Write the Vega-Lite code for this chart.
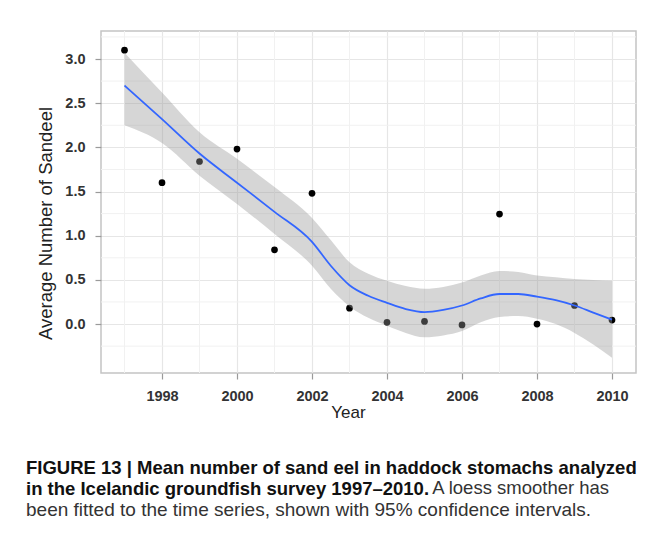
{
  "$schema": "https://vega.github.io/schema/vega-lite/v6.json",
  "padding": {"left": 25, "top": 29, "right": 0, "bottom": 0},
  "background": "white",
  "config": {
    "view": {"stroke": "#c4c4c4", "strokeWidth": 1.5},
    "font": "Liberation Sans"
  },
  "title": {
    "text": "A loess smoother has",
    "orient": "bottom",
    "anchor": "start",
    "frame": "bounds",
    "font": "Liberation Sans",
    "fontSize": 18.5,
    "fontWeight": "normal",
    "color": "#333333",
    "offset": 0,
    "dx": 407,
    "dy": -41
  },
  "vconcat": [
    {
      "width": 535,
      "height": 342,
      "title": {
        "text": [
          "FIGURE 13 | Mean number of sand eel in haddock stomachs analyzed",
          "in the Icelandic groundfish survey 1997–2010."
        ],
        "subtitle": "been fitted to the time series, shown with 95% confidence intervals.",
        "orient": "bottom",
        "anchor": "start",
        "frame": "group",
        "dx": -75,
        "offset": 39,
        "font": "Liberation Sans",
        "fontSize": 18.5,
        "fontWeight": "bold",
        "color": "#111111",
        "lineHeight": 21,
        "subtitleFont": "Liberation Sans",
        "subtitleFontSize": 19,
        "subtitleFontWeight": "normal",
        "subtitleColor": "#333333",
        "subtitleLineHeight": 21,
        "subtitlePadding": 2
      },
      "layer": [
        {
          "data": {"values": [
            {"year": 1997}, {"year": 1999}, {"year": 2001}, {"year": 2003},
            {"year": 2005}, {"year": 2007}, {"year": 2009}
          ]},
          "mark": {"type": "rule", "color": "#f1f1f1", "strokeWidth": 1},
          "encoding": {
            "x": {"field": "year", "type": "quantitative", "scale": {"domain": [1996.373, 2010.64], "nice": false, "zero": false}}
          }
        },
        {
          "data": {"values": [
            {"value": -0.25}, {"value": 0.25}, {"value": 0.75}, {"value": 1.25},
            {"value": 1.75}, {"value": 2.25}, {"value": 2.75}, {"value": 3.25}
          ]},
          "mark": {"type": "rule", "color": "#f1f1f1", "strokeWidth": 1},
          "encoding": {
            "y": {"field": "value", "type": "quantitative", "scale": {"domain": [-0.554, 3.317], "nice": false, "zero": false}}
          }
        },
        {
          "data": {"values": [
            {"year": 1997, "value": 3.10},
            {"year": 1998, "value": 1.60},
            {"year": 1999, "value": 1.84},
            {"year": 2000, "value": 1.98},
            {"year": 2001, "value": 0.84},
            {"year": 2002, "value": 1.48},
            {"year": 2003, "value": 0.18},
            {"year": 2004, "value": 0.02},
            {"year": 2005, "value": 0.03},
            {"year": 2006, "value": -0.01},
            {"year": 2007, "value": 1.245},
            {"year": 2008, "value": 0.0},
            {"year": 2009, "value": 0.21},
            {"year": 2010, "value": 0.045}
          ]},
          "mark": {"type": "circle", "color": "#000000", "size": 45, "opacity": 1},
          "encoding": {
            "x": {
              "field": "year",
              "type": "quantitative",
              "scale": {"domain": [1996.373, 2010.64], "nice": false, "zero": false},
              "axis": {
                "values": [1998, 2000, 2002, 2004, 2006, 2008, 2010],
                "format": "d",
                "grid": true,
                "gridColor": "#e6e6e6",
                "gridWidth": 1.2,
                "domain": false,
                "tickColor": "#9a9a9a",
                "tickSize": 6,
                "tickWidth": 1.2,
                "labelFont": "Liberation Sans",
                "labelFontSize": 14.5,
                "labelFontWeight": "bold",
                "labelColor": "#333333",
                "labelPadding": 10,
                "title": "Year",
                "titleFont": "Liberation Sans",
                "titleFontSize": 17,
                "titleFontWeight": "normal",
                "titleColor": "#222222",
                "titleX": 247,
                "titleY": 39,
                "titleBaseline": "middle",
                "titleAlign": "center"
              }
            },
            "y": {
              "field": "value",
              "type": "quantitative",
              "scale": {"domain": [-0.554, 3.317], "nice": false, "zero": false},
              "axis": {
                "values": [0, 0.5, 1, 1.5, 2, 2.5, 3],
                "format": ".1f",
                "grid": true,
                "gridColor": "#e6e6e6",
                "gridWidth": 1.2,
                "domain": false,
                "tickColor": "#9a9a9a",
                "tickSize": 6,
                "tickWidth": 1.2,
                "labelFont": "Liberation Sans",
                "labelFontSize": 14.5,
                "labelFontWeight": "bold",
                "labelColor": "#333333",
                "labelPadding": 10,
                "title": "Average Number of Sandeel",
                "titleFont": "Liberation Sans",
                "titleFontSize": 18.5,
                "titleFontWeight": "normal",
                "titleColor": "#222222",
                "titleAngle": -90,
                "titleX": -56,
                "titleY": 192,
                "titleBaseline": "middle",
                "titleAlign": "center"
              }
            }
          }
        },
        {
          "data": {"name": "smooth", "values": [
            {"year": 1997, "fit": 2.70, "lo": 2.25, "hi": 3.07},
            {"year": 1998, "fit": 2.32, "lo": 2.05, "hi": 2.62},
            {"year": 1999, "fit": 1.93, "lo": 1.68, "hi": 2.17},
            {"year": 2000, "fit": 1.60, "lo": 1.36, "hi": 1.87},
            {"year": 2001, "fit": 1.27, "lo": 1.02, "hi": 1.55},
            {"year": 2002, "fit": 0.93, "lo": 0.66, "hi": 1.20},
            {"year": 2002.5, "fit": 0.66, "lo": 0.40, "hi": 0.95},
            {"year": 2003, "fit": 0.44, "lo": 0.20, "hi": 0.70},
            {"year": 2003.5, "fit": 0.32, "lo": 0.07, "hi": 0.57},
            {"year": 2004, "fit": 0.24, "lo": -0.02, "hi": 0.49},
            {"year": 2004.5, "fit": 0.17, "lo": -0.10, "hi": 0.43},
            {"year": 2005, "fit": 0.135, "lo": -0.15, "hi": 0.40},
            {"year": 2005.5, "fit": 0.16, "lo": -0.13, "hi": 0.42},
            {"year": 2006, "fit": 0.21, "lo": -0.08, "hi": 0.47},
            {"year": 2006.5, "fit": 0.29, "lo": 0.02, "hi": 0.55},
            {"year": 2007, "fit": 0.34, "lo": 0.08, "hi": 0.60},
            {"year": 2007.5, "fit": 0.34, "lo": 0.09, "hi": 0.59},
            {"year": 2008, "fit": 0.31, "lo": 0.06, "hi": 0.55},
            {"year": 2008.5, "fit": 0.27, "lo": 0.0, "hi": 0.53},
            {"year": 2009, "fit": 0.21, "lo": -0.10, "hi": 0.51},
            {"year": 2009.5, "fit": 0.13, "lo": -0.23, "hi": 0.50},
            {"year": 2010, "fit": 0.05, "lo": -0.38, "hi": 0.49}
          ]},
          "layer": [
            {
              "mark": {"type": "area", "color": "#999999", "opacity": 0.4, "interpolate": "monotone"},
              "encoding": {
                "x": {"field": "year", "type": "quantitative"},
                "y": {"field": "lo", "type": "quantitative"},
                "y2": {"field": "hi"}
              }
            },
            {
              "mark": {"type": "line", "color": "#3366ff", "strokeWidth": 1.8, "interpolate": "monotone"},
              "encoding": {
                "x": {"field": "year", "type": "quantitative"},
                "y": {"field": "fit", "type": "quantitative"}
              }
            }
          ]
        }
      ]
    }
  ]
}
